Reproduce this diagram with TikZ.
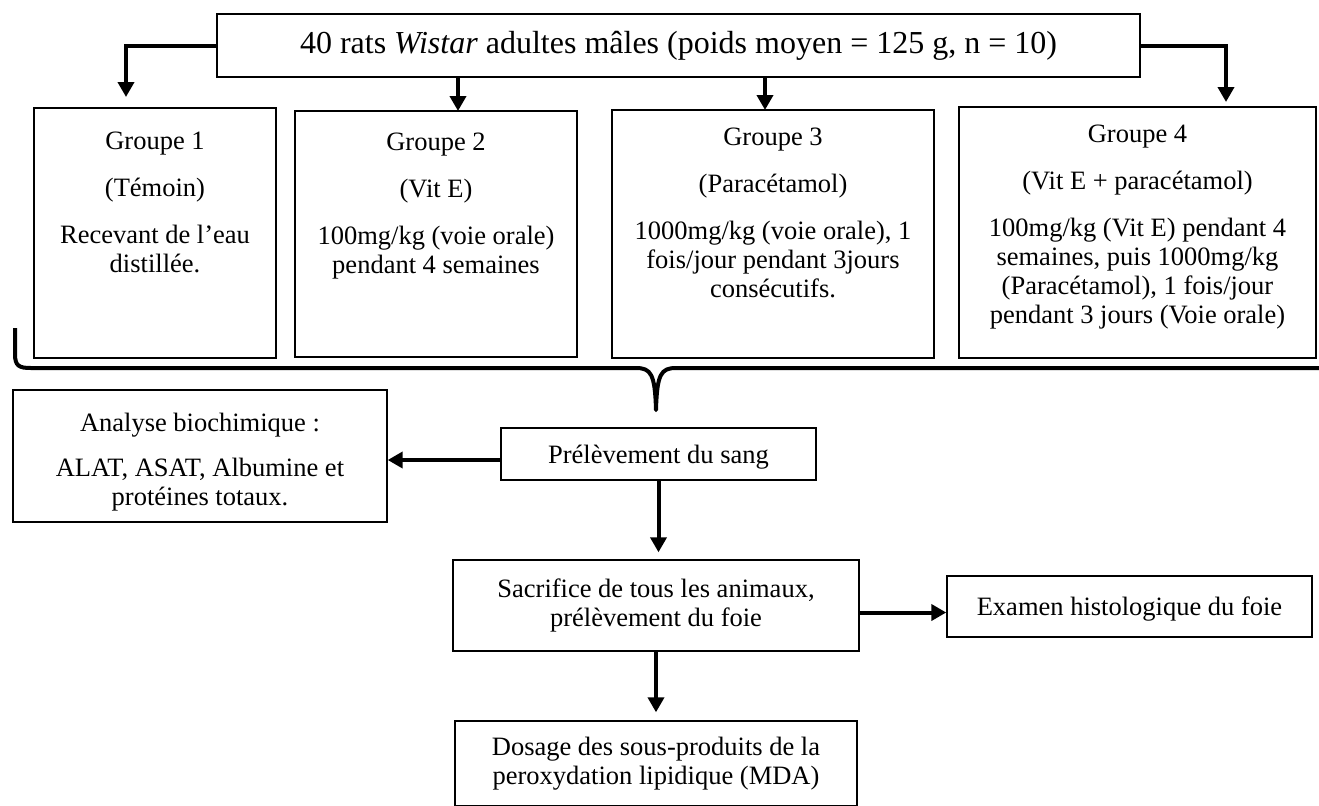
\documentclass[tikz,border=0pt]{standalone}
\usepackage{fontspec}
\setmainfont{Liberation Serif}
\usetikzlibrary{positioning,arrows.meta}

\begin{document}
\begin{tikzpicture}[
  x=0.5pt, y=-0.5pt,
  grp/.style={draw, line width=1.3pt, inner sep=0pt},
  box/.style={draw, line width=0.7pt, align=center, inner sep=0pt,
               font=\fontsize{13.25}{14.5}\selectfont},
  txt/.style={anchor=north, align=center, inner sep=0pt,
              font=\fontsize{13.25}{14.5}\selectfont},
  link/.style={->, line width=2pt},
  bracepath/.style={line width=2pt, line join=round},
  >={Triangle[width=8pt,length=7.5pt]}
]
  \useasboundingbox (0,0) rectangle (1319,805);

  % animals and the four groups
  \node[grp, minimum width=461.5pt, minimum height=31.5pt,
        font=\fontsize{16}{19}\selectfont] (rats) at (678.5,45.5)
       {40 rats \textit{Wistar} adultes mâles (poids moyen = 125 g, n = 10)};

  \node[grp, minimum width=121pt, minimum height=125pt] (g1) at (155,233) {};
  \node[grp, minimum width=141pt, minimum height=123pt] (g2) at (436,234) {};
  \node[grp, minimum width=161pt, minimum height=124pt] (g3) at (773,234) {};
  \node[grp, minimum width=178.5pt, minimum height=125.5pt] (g4) at (1137.5,232.5) {};

  \node[txt, below=12.5pt of g1.north] (g1t)
       {Groupe 1\\[9pt](Témoin)\\[9pt]Recevant de l’eau\\distillée.};
  \node[txt, below=11.5pt of g2.north] (g2t)
       {Groupe 2\\[9pt](Vit E)\\[9pt]100mg/kg (voie orale)\\pendant 4 semaines};
  \node[txt, below=9.5pt of g3.north] (g3t)
       {Groupe 3\\[9pt](Paracétamol)\\[9pt]1000mg/kg (voie orale), 1\\fois/jour pendant 3jours\\consécutifs.};
  \node[txt, below=9.5pt of g4.north] (g4t)
       {Groupe 4\\[9pt](Vit E + paracétamol)\\[9pt]100mg/kg (Vit E) pendant 4\\semaines, puis 1000mg/kg\\(Paracétamol), 1 fois/jour\\pendant 3 jours (Voie orale)};

  \coordinate (a1) at (126,97);
  \coordinate (a2) at (458,111);
  \coordinate (a3) at (765,110);
  \coordinate (a4) at (1226,102);

  \draw[link] (rats.west) -| (a1);
  \draw[link] (rats.south -| a2) -- (a2);
  \draw[link] (rats.south -| a3) -- (a3);
  \draw[link] (rats.east) -| (a4);

  % brace gathering the groups
  \draw[bracepath] (15,328) -- (15,354) .. controls (15,366) and (19,368) .. (31,368)
    -- (636,368) .. controls (651,368) and (655,374) .. (656,410)
    .. controls (657,374) and (661,368) .. (676,368) -- (1330,368);

  % samples and analyses
  \node[box, minimum width=187pt, minimum height=66pt] (ana) at (200,456) {};
  \node[txt, anchor=center] (anat) at (200,462)
       {Analyse biochimique :\\[8pt]ALAT, ASAT, Albumine et\\protéines totaux.};
  \node[box, minimum width=157.5pt, minimum height=26pt, text depth=0pt] (prel)
       at (658.5,454) {Prélèvement du sang};
  \node[box, minimum width=203pt, minimum height=45.5pt] (sac) at (656,605.5)
       {Sacrifice de tous les animaux,\\prélèvement du foie};
  \node[box, minimum width=182.5pt, minimum height=30.5pt, text depth=0pt] (exa)
       at (1129.5,606.5) {Examen histologique du foie};
  \node[box, minimum width=201pt, minimum height=42.5pt] (dos) at (656,763.5)
       {Dosage des sous-produits de la\\peroxydation lipidique (MDA)};

  \draw[link] (prel.west) ++(0,6) coordinate (p1) -- (p1 -| ana.east);
  \draw[link, shorten >=3.5pt] (prel.south) -- (prel.south |- sac.north);
  \draw[link] (sac.east) ++(0,7) coordinate (s1) -- (s1 -| exa.west);
  \draw[link, shorten >=4pt] (sac.south) -- (dos.north);
\end{tikzpicture}
\end{document}
